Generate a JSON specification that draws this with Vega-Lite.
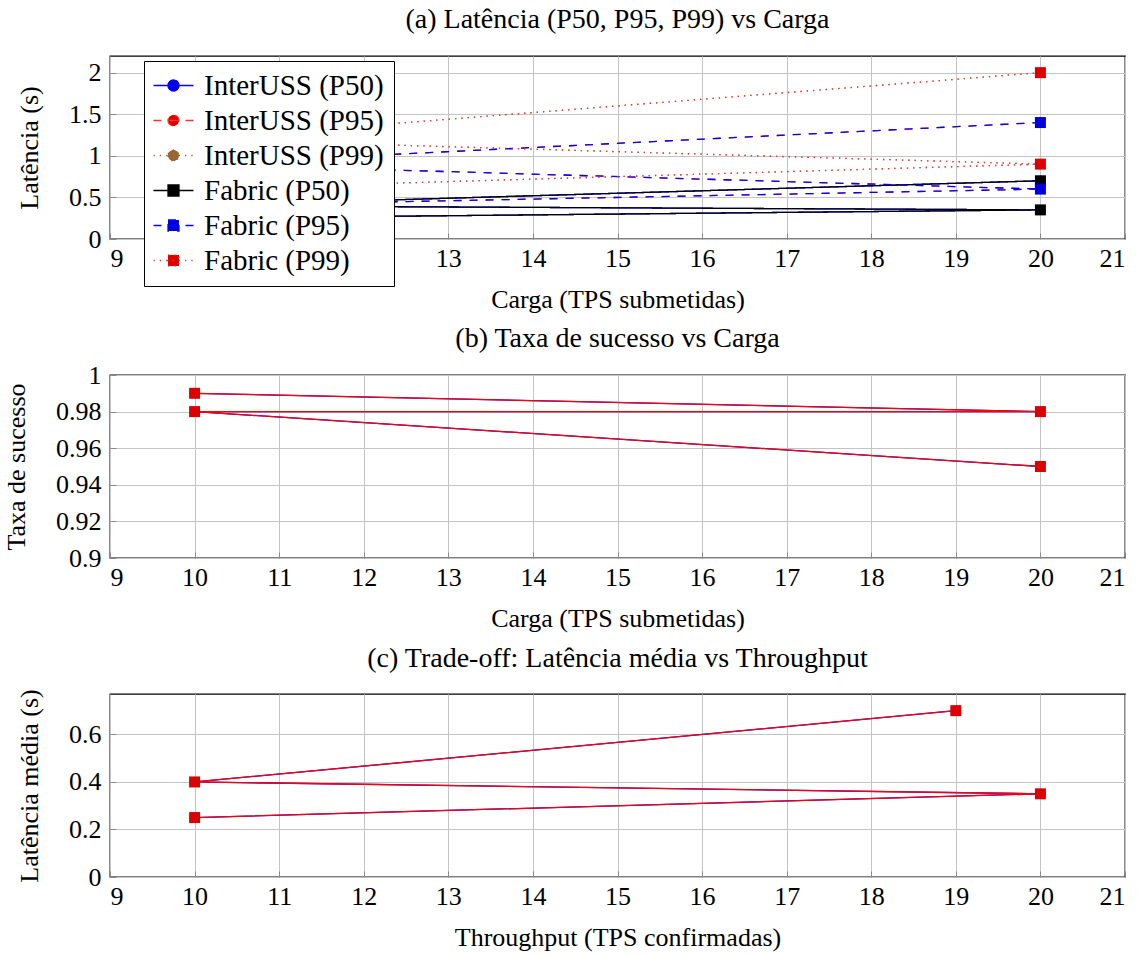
{
  "$schema": "https://vega.github.io/schema/vega-lite/v6.json",
  "background": "white",
  "padding": {"left": 2, "top": 5, "right": 10, "bottom": 5},
  "datasets": {
    "lat": [
      {"run": 1, "carga": 20, "serie": "InterUSS (P50)", "lat": 0.7},
      {"run": 2, "carga": 10, "serie": "InterUSS (P50)", "lat": 0.4},
      {"run": 3, "carga": 20, "serie": "InterUSS (P50)", "lat": 0.35},
      {"run": 4, "carga": 10, "serie": "InterUSS (P50)", "lat": 0.25},
      {"run": 1, "carga": 20, "serie": "InterUSS (P95)", "lat": 1.4},
      {"run": 2, "carga": 10, "serie": "InterUSS (P95)", "lat": 0.9},
      {"run": 3, "carga": 20, "serie": "InterUSS (P95)", "lat": 0.6},
      {"run": 4, "carga": 10, "serie": "InterUSS (P95)", "lat": 0.4},
      {"run": 1, "carga": 20, "serie": "InterUSS (P99)", "lat": 2.0},
      {"run": 2, "carga": 10, "serie": "InterUSS (P99)", "lat": 1.2},
      {"run": 3, "carga": 20, "serie": "InterUSS (P99)", "lat": 0.9},
      {"run": 4, "carga": 10, "serie": "InterUSS (P99)", "lat": 0.6},
      {"run": 1, "carga": 20, "serie": "Fabric (P50)", "lat": 0.7},
      {"run": 2, "carga": 10, "serie": "Fabric (P50)", "lat": 0.4},
      {"run": 3, "carga": 20, "serie": "Fabric (P50)", "lat": 0.35},
      {"run": 4, "carga": 10, "serie": "Fabric (P50)", "lat": 0.25},
      {"run": 1, "carga": 20, "serie": "Fabric (P95)", "lat": 1.4},
      {"run": 2, "carga": 10, "serie": "Fabric (P95)", "lat": 0.9},
      {"run": 3, "carga": 20, "serie": "Fabric (P95)", "lat": 0.6},
      {"run": 4, "carga": 10, "serie": "Fabric (P95)", "lat": 0.4},
      {"run": 1, "carga": 20, "serie": "Fabric (P99)", "lat": 2.0},
      {"run": 2, "carga": 10, "serie": "Fabric (P99)", "lat": 1.2},
      {"run": 3, "carga": 20, "serie": "Fabric (P99)", "lat": 0.9},
      {"run": 4, "carga": 10, "serie": "Fabric (P99)", "lat": 0.6}
    ],
    "succ": [
      {"run": 1, "carga": 20, "sistema": "InterUSS", "taxa": 0.95},
      {"run": 2, "carga": 10, "sistema": "InterUSS", "taxa": 0.98},
      {"run": 3, "carga": 20, "sistema": "InterUSS", "taxa": 0.98},
      {"run": 4, "carga": 10, "sistema": "InterUSS", "taxa": 0.99},
      {"run": 1, "carga": 20, "sistema": "Fabric", "taxa": 0.95},
      {"run": 2, "carga": 10, "sistema": "Fabric", "taxa": 0.98},
      {"run": 3, "carga": 20, "sistema": "Fabric", "taxa": 0.98},
      {"run": 4, "carga": 10, "sistema": "Fabric", "taxa": 0.99}
    ],
    "trade": [
      {"run": 1, "throughput": 19, "sistema": "InterUSS", "media": 0.7},
      {"run": 2, "throughput": 10, "sistema": "InterUSS", "media": 0.4},
      {"run": 3, "throughput": 20, "sistema": "InterUSS", "media": 0.35},
      {"run": 4, "throughput": 10, "sistema": "InterUSS", "media": 0.25},
      {"run": 1, "throughput": 19, "sistema": "Fabric", "media": 0.7},
      {"run": 2, "throughput": 10, "sistema": "Fabric", "media": 0.4},
      {"run": 3, "throughput": 20, "sistema": "Fabric", "media": 0.35},
      {"run": 4, "throughput": 10, "sistema": "Fabric", "media": 0.25}
    ]
  },
  "bounds": "flush",
  "spacing": 136,
  "resolve": {
    "scale": {"color": "independent", "fill": "independent", "shape": "independent", "strokeDash": "independent"}
  },
  "vconcat": [
    {
      "width": 1015,
      "height": 183,
      "title": {"text": "(a) Latência (P50, P95, P99) vs Carga", "offset": 22},
      "data": {"name": "lat"},
      "encoding": {
        "x": {"field": "carga", "type": "quantitative", "scale": {"domain": [9, 21], "nice": false},
              "axis": {"values": [9, 10, 11, 12, 13, 14, 15, 16, 17, 18, 19, 20, 21], "format": "d", "title": "Carga (TPS submetidas)", "labelFont": "Liberation Serif", "labelFontSize": 26}},
        "y": {"field": "lat", "type": "quantitative", "scale": {"domain": [0, 2.2], "nice": false},
              "axis": {"values": [0, 0.5, 1, 1.5, 2], "format": "~g", "title": "Latência (s)", "labelFont": "Liberation Serif", "labelFontSize": 26}}
      },
      "layer": [
        {
          "mark": {"type": "line", "strokeWidth": 1.3},
          "encoding": {
            "color": {
              "field": "serie", "type": "nominal",
              "scale": {"domain": ["InterUSS (P50)", "InterUSS (P95)", "InterUSS (P99)", "Fabric (P50)", "Fabric (P95)", "Fabric (P99)"],
                        "range": ["#0000ff", "#ff3030", "#996633", "#000000", "#0000ff", "#ff3030"]}
            },
            "strokeDash": {
              "field": "serie", "type": "nominal",
              "scale": {"domain": ["InterUSS (P50)", "InterUSS (P95)", "InterUSS (P99)", "Fabric (P50)", "Fabric (P95)", "Fabric (P99)"],
                        "range": [[1, 0], [8, 8], [1.3, 5], [1, 0], [8, 8], [1.3, 5]]}
            },
            "order": {"field": "run", "type": "quantitative"}
          }
        },
        {
          "transform": [{"filter": "indexof(datum.serie, 'InterUSS') === 0"}],
          "mark": {"type": "point", "filled": true, "opacity": 1, "size": 100, "shape": "circle"},
          "encoding": {
            "fill": {
              "field": "serie", "type": "nominal",
              "scale": {"domain": ["InterUSS (P50)", "InterUSS (P95)", "InterUSS (P99)", "Fabric (P50)", "Fabric (P95)", "Fabric (P99)"],
                        "range": ["#0000dd", "#dd0000", "#996633", "#000000", "#0000dd", "#dd0000"]}
            }
          }
        },
        {
          "transform": [{"filter": "indexof(datum.serie, 'Fabric') === 0"}],
          "mark": {"type": "point", "filled": true, "opacity": 1, "size": 121, "shape": "square"},
          "encoding": {
            "fill": {"field": "serie", "type": "nominal"}
          }
        },
        {
          "mark": {"type": "point", "filled": false, "opacity": 0, "strokeWidth": 1.3},
          "encoding": {
            "color": {
              "field": "serie", "type": "nominal",
              "legend": {
                "orient": "none", "legendX": 34, "legendY": 5, "title": null,
                "padding": 10, "strokeColor": "black", "fillColor": "white",
                "labelFont": "Liberation Serif", "labelFontSize": 29, "labelColor": "black", "labelLimit": 400,
                "symbolSize": 576, "symbolStrokeWidth": 1.3, "symbolOffset": 5, "labelOffset": 16, "rowPadding": 5,
                "symbolOpacity": 1
              }
            },
            "fill": {
              "field": "serie", "type": "nominal",
              "legend": {
                "orient": "none", "legendX": 34, "legendY": 5, "title": null,
                "padding": 10, "strokeColor": "black", "fillColor": "white",
                "labelFont": "Liberation Serif", "labelFontSize": 29, "labelColor": "black", "labelLimit": 400,
                "symbolSize": 576, "symbolStrokeWidth": 1.3, "symbolOffset": 5, "labelOffset": 16, "rowPadding": 5,
                "symbolOpacity": 1
              }
            },
            "strokeDash": {
              "field": "serie", "type": "nominal",
              "legend": {
                "orient": "none", "legendX": 34, "legendY": 5, "title": null,
                "padding": 10, "strokeColor": "black", "fillColor": "white",
                "labelFont": "Liberation Serif", "labelFontSize": 29, "labelColor": "black", "labelLimit": 400,
                "symbolSize": 576, "symbolStrokeWidth": 1.3, "symbolOffset": 5, "labelOffset": 16, "rowPadding": 5,
                "symbolOpacity": 1
              }
            },
            "shape": {
              "field": "serie", "type": "nominal",
              "scale": {"domain": ["InterUSS (P50)", "InterUSS (P95)", "InterUSS (P99)", "Fabric (P50)", "Fabric (P95)", "Fabric (P99)"],
                        "range": [
                          "M-1.667,0L1.667,0M-0.458,0A0.458,0.458,0,1,0,0.458,0A0.458,0.458,0,1,0,-0.458,0Z",
                          "M-1.667,0L1.667,0M-0.458,0A0.458,0.458,0,1,0,0.458,0A0.458,0.458,0,1,0,-0.458,0Z",
                          "M-1.667,0L1.667,0M-0.458,0A0.458,0.458,0,1,0,0.458,0A0.458,0.458,0,1,0,-0.458,0Z",
                          "M-1.667,0L1.667,0M-0.458,-0.458L0.458,-0.458L0.458,0.458L-0.458,0.458Z",
                          "M-1.667,0L1.667,0M-0.458,-0.458L0.458,-0.458L0.458,0.458L-0.458,0.458Z",
                          "M-1.667,0L1.667,0M-0.458,-0.458L0.458,-0.458L0.458,0.458L-0.458,0.458Z"
                        ]},
              "legend": {
                "orient": "none", "legendX": 34, "legendY": 5, "title": null,
                "padding": 10, "strokeColor": "black", "fillColor": "white",
                "labelFont": "Liberation Serif", "labelFontSize": 29, "labelColor": "black", "labelLimit": 400,
                "symbolSize": 576, "symbolStrokeWidth": 1.3, "symbolOffset": 5, "labelOffset": 16, "rowPadding": 5,
                "symbolOpacity": 1
              }
            }
          }
        }
      ]
    },
    {
      "width": 1015,
      "height": 183,
      "title": {"text": "(b) Taxa de sucesso vs Carga", "offset": 9},
      "data": {"name": "succ"},
      "encoding": {
        "x": {"field": "carga", "type": "quantitative", "scale": {"domain": [9, 21], "nice": false},
              "axis": {"values": [9, 10, 11, 12, 13, 14, 15, 16, 17, 18, 19, 20, 21], "format": "d", "title": "Carga (TPS submetidas)", "labelFont": "Liberation Serif", "labelFontSize": 26}},
        "y": {"field": "taxa", "type": "quantitative", "scale": {"domain": [0.9, 1.0], "nice": false, "zero": false},
              "axis": {"values": [0.9, 0.92, 0.94, 0.96, 0.98, 1], "format": "~g", "title": "Taxa de sucesso", "labelFont": "Liberation Serif", "labelFontSize": 26, "labelOverlap": false}}
      },
      "layer": [
        {
          "mark": {"type": "line", "strokeWidth": 1.3},
          "encoding": {
            "color": {"field": "sistema", "type": "nominal", "scale": {"domain": ["InterUSS", "Fabric"], "range": ["#0000ff", "#ff0000"]}, "legend": null},
            "order": {"field": "run", "type": "quantitative"}
          }
        },
        {
          "transform": [{"filter": "datum.sistema === 'InterUSS'"}],
          "mark": {"type": "point", "filled": true, "opacity": 1, "size": 100, "shape": "circle", "color": "#0000dd"}
        },
        {
          "transform": [{"filter": "datum.sistema === 'Fabric'"}],
          "mark": {"type": "point", "filled": true, "opacity": 1, "size": 121, "shape": "square", "color": "#dd0000"}
        }
      ]
    },
    {
      "width": 1015,
      "height": 183,
      "title": {"text": "(c) Trade-off: Latência média vs Throughput", "offset": 16},
      "data": {"name": "trade"},
      "encoding": {
        "x": {"field": "throughput", "type": "quantitative", "scale": {"domain": [9, 21], "nice": false},
              "axis": {"values": [9, 10, 11, 12, 13, 14, 15, 16, 17, 18, 19, 20, 21], "format": "d", "title": "Throughput (TPS confirmadas)", "labelFont": "Liberation Serif", "labelFontSize": 26}},
        "y": {"field": "media", "type": "quantitative", "scale": {"domain": [0, 0.77], "nice": false},
              "axis": {"values": [0, 0.2, 0.4, 0.6], "format": "~g", "title": "Latência média (s)", "labelFont": "Liberation Serif", "labelFontSize": 26}}
      },
      "layer": [
        {
          "mark": {"type": "line", "strokeWidth": 1.3},
          "encoding": {
            "color": {"field": "sistema", "type": "nominal", "scale": {"domain": ["InterUSS", "Fabric"], "range": ["#0000ff", "#ff0000"]}, "legend": null},
            "order": {"field": "run", "type": "quantitative"}
          }
        },
        {
          "transform": [{"filter": "datum.sistema === 'InterUSS'"}],
          "mark": {"type": "point", "filled": true, "opacity": 1, "size": 100, "shape": "circle", "color": "#0000dd"}
        },
        {
          "transform": [{"filter": "datum.sistema === 'Fabric'"}],
          "mark": {"type": "point", "filled": true, "opacity": 1, "size": 121, "shape": "square", "color": "#dd0000"}
        }
      ]
    }
  ],
  "config": {
    "font": "Liberation Serif",
    "view": {"stroke": "black", "strokeWidth": 1.3},
    "axis": {
      "labelFont": "Liberation Serif", "labelFontSize": 26, "labelColor": "black",
      "titleFont": "Liberation Serif", "titleFontSize": 26, "titleFontWeight": "normal", "titleColor": "black",
      "gridColor": "#c4c4c4", "gridWidth": 1, "domain": false,
      "tickColor": "#888888", "tickSize": -6, "tickWidth": 1, "labelPadding": 12, "titlePadding": 15
    },
    "axisY": {"titlePadding": 26, "labelPadding": 15},
    "title": {"font": "Liberation Serif", "fontSize": 28, "fontWeight": "normal", "color": "black", "anchor": "middle"}
  }
}
